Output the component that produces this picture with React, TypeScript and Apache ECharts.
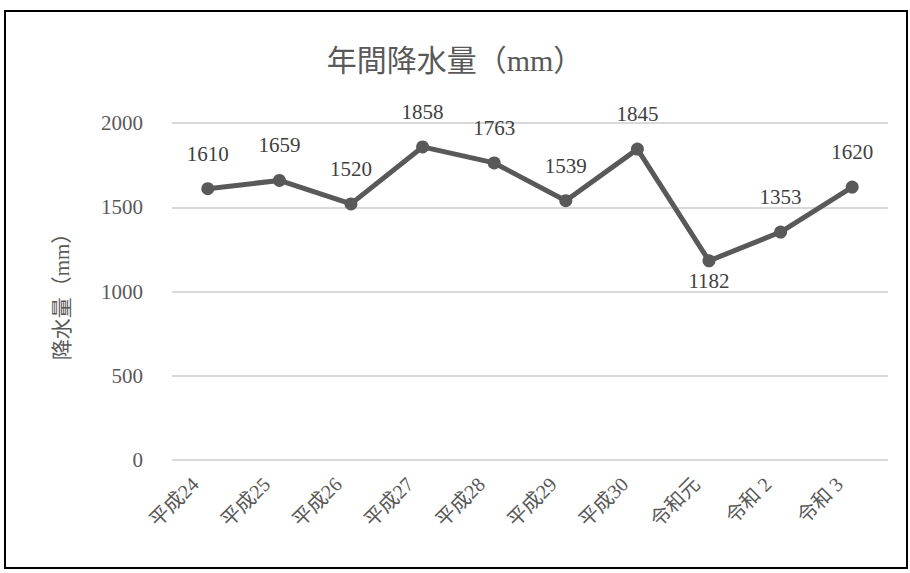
import React, { useEffect, useRef } from "react";
import * as echarts from "echarts";

const categories = ["平成24", "平成25", "平成26", "平成27", "平成28", "平成29", "平成30", "令和元", "令和 2", "令和 3"];
const rainfall = [1610, 1659, 1520, 1858, 1763, 1539, 1845, 1182, 1353, 1620];
const belowLabelIndex = [7];
const yTicks = { min: 0, max: 2000, interval: 500 };

const FONT = "'Liberation Serif', 'Noto Sans CJK JP', serif";

export default function App() {
  const ref = useRef<HTMLDivElement>(null);
  useEffect(() => {
    if (!ref.current) return;
    const chart = echarts.init(ref.current, null, { renderer: "svg" });
    chart.setOption({
      animation: false,
      backgroundColor: "#ffffff",
      textStyle: { fontFamily: FONT },
      title: {
        text: "年間降水量（mm）",
        left: "center",
        top: 40,
        textStyle: { fontFamily: FONT, fontSize: 30, fontWeight: "normal", color: "#595959" },
      },
      graphic: [
        {
          type: "rect",
          shape: { x: 5, y: 11, width: 902, height: 557 },
          style: { fill: "none", stroke: "#000000", lineWidth: 2 },
          silent: true,
        },
      ],
      grid: { left: 172, right: 22, top: 123, bottom: 113, containLabel: false },
      xAxis: {
        type: "category",
        data: categories,
        axisLine: { show: false },
        axisTick: { show: false },
        axisLabel: {
          rotate: 45,
          interval: 0,
          margin: 8,
          padding: [0, 18, 0, 0],
          fontFamily: FONT,
          fontSize: 20,
          color: "#595959",
        },
      },
      yAxis: {
        type: "value",
        min: yTicks.min,
        max: yTicks.max,
        interval: yTicks.interval,
        name: "降水量（mm）",
        nameLocation: "middle",
        nameRotate: 90,
        nameGap: 100,
        nameTextStyle: { fontFamily: FONT, fontSize: 21, color: "#595959" },
        axisLine: { show: false },
        axisTick: { show: false },
        axisLabel: {
          fontFamily: FONT,
          fontSize: 21,
          color: "#595959",
          margin: 29,
          formatter: (v: number) => String(v),
        },
        splitLine: { lineStyle: { color: "#d9d9d9", width: 2 } },
      },
      series: [
        {
          type: "line",
          data: rainfall.map((v, i) => ({
            value: v,
            label: belowLabelIndex.includes(i) ? { position: "bottom", distance: 3 } : undefined,
          })),
          symbol: "circle",
          symbolSize: 13,
          lineStyle: { color: "#595959", width: 5 },
          itemStyle: { color: "#595959" },
          label: {
            show: true,
            position: "top",
            distance: 18,
            fontFamily: FONT,
            fontSize: 21,
            color: "#404040",
          },
        },
      ],
    });
    return () => chart.dispose();
  }, []);
  return (
    <div
      ref={ref}
      style={{ position: "fixed", left: 0, top: 0, width: 910, height: 573 }}
    />
  );
}
